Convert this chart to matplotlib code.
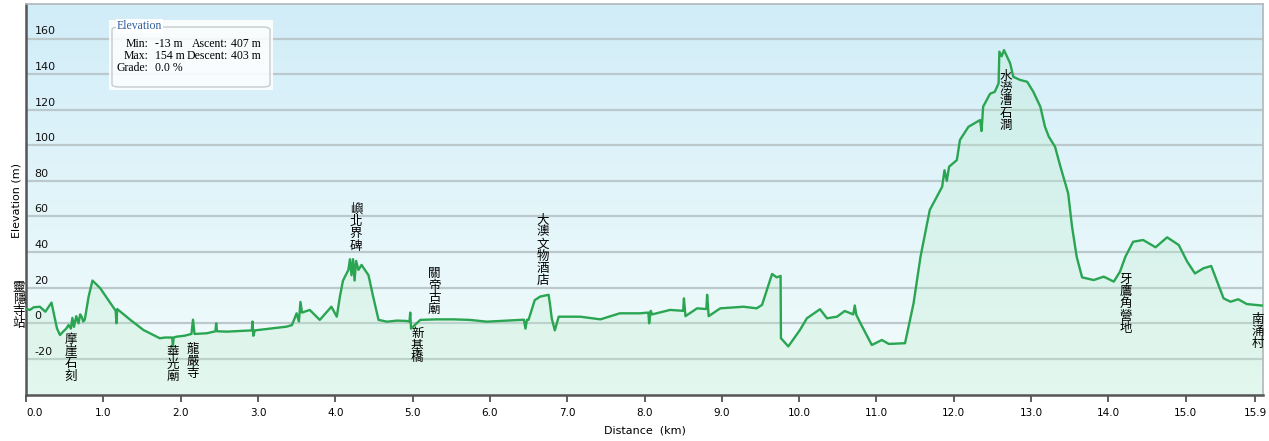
import matplotlib
matplotlib.use("Agg")
import matplotlib.pyplot as plt
import numpy as np
from matplotlib.patches import FancyBboxPatch, Rectangle

# ---------------- data ----------------
dist_km = [0.00, 0.05, 0.10, 0.18, 0.25, 0.33, 0.35, 0.40, 0.44, 0.48, 0.52, 0.55, 0.58, 0.60,
           0.62, 0.65, 0.68, 0.70, 0.72, 0.74, 0.76, 0.81, 0.86, 0.96, 1.05, 1.16, 1.17, 1.18,
           1.35, 1.52, 1.73, 1.80, 1.89, 1.90, 1.91, 1.95, 2.05, 2.14, 2.16, 2.18, 2.34, 2.45,
           2.46, 2.47, 2.60, 2.92, 2.93, 2.94, 2.96, 3.20, 3.37, 3.44, 3.50, 3.53, 3.55, 3.57,
           3.67, 3.80, 3.95, 4.02, 4.06, 4.10, 4.17, 4.19, 4.21, 4.23, 4.25, 4.27, 4.30, 4.34,
           4.43, 4.49, 4.56, 4.67, 4.80, 4.92, 4.96, 4.97, 4.98, 5.10, 5.31, 5.53, 5.74, 5.96,
           6.22, 6.44, 6.46, 6.48, 6.50, 6.58, 6.65, 6.76, 6.78, 6.80, 6.84, 6.89, 7.17, 7.43,
           7.68, 7.94, 8.05, 8.06, 8.08, 8.10, 8.33, 8.50, 8.51, 8.53, 8.68, 8.80, 8.81, 8.83,
           8.98, 9.28, 9.45, 9.52, 9.65, 9.71, 9.76, 9.765, 9.86, 10.01, 10.10, 10.27, 10.36,
           10.49, 10.59, 10.70, 10.72, 10.74, 10.79, 10.94, 11.07, 11.16, 11.37, 11.42, 11.48,
           11.57, 11.69, 11.85, 11.88, 11.91, 11.94, 12.04, 12.08, 12.19, 12.34, 12.36, 12.38,
           12.47, 12.53, 12.58, 12.59, 12.62, 12.65, 12.73, 12.77, 12.86, 12.95, 13.03, 13.12,
           13.18, 13.23, 13.31, 13.38, 13.48, 13.53, 13.59, 13.66, 13.81, 13.94, 14.07, 14.15,
           14.22, 14.32, 14.45, 14.61, 14.76, 14.91, 15.02, 15.12, 15.23, 15.33, 15.40, 15.49,
           15.58, 15.68, 15.79, 16.00]
elev_m = [8, 7.5, 9, 9.3, 6.5, 11.6, 7.5, -2.8, -6.6, -4.7, -3, -1, -3, 3,
          -2, 4, 0, 5, 3.7, 1, 2, 15, 24, 19.7, 14, 7, 0, 8,
          1.9, -3.8, -8.4, -8, -8, -13, -8, -7.5, -7, -6, 2, -6, -5.6, -4.5,
          0, -4.5, -4.7, -4, 1, -7, -4, -2.8, -1.9, -1, 5.6, 1, 12, 6,
          7.5, 1.9, 9.3, 3.7, 15, 24, 30, 36, 27, 36, 24, 35, 30, 32.8,
          27, 15, 1.9, 0.9, 1.5, 1.3, 1, 6, -3, 1.9, 2.2, 2.2, 1.9, 0.9,
          1.5, 2, -3, 2, 1.9, 13, 15, 16, 10, 2.8, -4, 3.7, 3.7, 2.2,
          5.6, 5.6, 6, 0, 7, 5, 7.5, 7, 14, 4, 8.4, 8, 16, 4,
          8.4, 9.3, 8.4, 10.3, 27.7, 25.8, 26.6, -8.4, -13, -3.8, 2.8, 7.9, 2.8,
          3.7, 6.9, 5, 10, 4.7, 0.3, -12.2, -9.4, -11.6, -11.2, -1, 11.2,
          37.4, 63.7, 76.7, 86, 80, 88, 91.7, 103, 110.4, 114.2, 108, 121.7,
          129, 130, 134.8, 152.6, 150, 153.5, 146, 138.5, 136.7, 135.7, 130, 121.7,
          110.4, 104.8, 99.2, 88, 73, 54.3, 37.4, 25.8, 24.3, 26.2, 23.4, 29,
          37.4, 45.8, 46.8, 42.7, 48.3, 44, 34.6, 28, 30.9, 32.2, 24.3, 14,
          12.1, 13.5, 10.8, 9.9]

y_ticks = [-20, 0, 20, 40, 60, 80, 100, 120, 140, 160]
x_ticks = [0, 1, 2, 3, 4, 5, 6, 7, 8, 9, 10, 11, 12, 13, 14, 15, 15.9]
x_tick_labels = ["0.0", "1.0", "2.0", "3.0", "4.0", "5.0", "6.0", "7.0", "8.0", "9.0",
                 "10.0", "11.0", "12.0", "13.0", "14.0", "15.0", "15.9"]

place_names = ["靈隱寺站", "摩崖石刻", "華光廟", "龍嚴寺", "嶼北界碑", "新基橋", "關帝古廟",
               "大澳文物酒店", "水澇漕石澗", "牙鷹角營地", "南涌村"]
place_km = [-0.09, 0.58, 1.90, 2.16, 4.27, 5.06, 5.28, 6.68, 12.67, 14.22, 15.93]
place_top_m = [24.0, -5.4, -12.8, -11.1, 67.6, -2.1, 31.6, 62.0, 142.3, 28.3, 5.8]

stats_labels = ["Min:", "Max:", "Grade:"]
stats_values = ["-13 m", "154 m", "0.0 %"]
stats_labels2 = ["Ascent:", "Descent:"]
stats_values2 = ["407 m", "403 m"]

# ---------------- figure ----------------
W, H = 1269, 441
fig = plt.figure(figsize=(W / 100, H / 100), dpi=100)
fig.patch.set_facecolor("white")

def fx(px):
    return px / W

def fy(py):
    return 1 - py / H

ax = fig.add_axes([fx(26), fy(395), fx(1263) - fx(26), fy(4) - fy(395)])
xmin, xmax = 0, 16.0
ymin, ymax = -40.3, 179.4

# background gradient (row 0 = top)
grad = np.linspace(0, 1, 256).reshape(-1, 1)
top = np.array([0.82, 0.93, 0.975])
bot = np.array([0.955, 0.99, 0.985])
img = top[None, None, :] * (1 - grad[:, :, None]) + bot[None, None, :] * grad[:, :, None]
ax.imshow(img, extent=[xmin, xmax, ymin, ymax], origin="upper", aspect="auto", zorder=0)
ax.set_xlim(xmin, xmax)
ax.set_ylim(ymin, ymax)

# gridlines
for v in y_ticks:
    ax.axhline(v, color="#bcc9cc", lw=1.6, zorder=1)
    ax.text(0.11, v + 1.2, str(v), fontsize=8, color="#111111", ha="left", va="bottom",
            family="DejaVu Sans", zorder=5)

# fill under curve
x = np.array(dist_km)
y = np.array(elev_m)
ax.fill_between(x, y, ymin, color="#bdeccd", alpha=0.3, zorder=2, lw=0)
ax.plot(x, y, color="#2aa552", lw=1.7, zorder=3, solid_joinstyle="round")

# axes style
ax.set_yticks([])
ax.set_xticks(x_ticks)
ax.set_xticklabels(x_tick_labels, fontsize=7.5, family="DejaVu Sans")
labs = ax.get_xticklabels()
labs[0].set_horizontalalignment("left")
ax.tick_params(axis="x", direction="out", length=5, width=1.2, color="#444444", pad=4)
for side in ["left", "bottom"]:
    ax.spines[side].set_color("#555555")
    ax.spines[side].set_linewidth(1.8)
for side in ["top", "right"]:
    ax.spines[side].set_color("#b0b8ba")
    ax.spines[side].set_linewidth(1.2)

ax.set_xlabel("Distance  (km)", fontsize=8, family="DejaVu Sans", labelpad=6)
fig.text(fx(17), fy(200), "Elevation (m)", rotation=90, fontsize=8, ha="center", va="center",
         family="DejaVu Sans")

# place name annotations (vertical)
cjk = ["Noto Sans CJK TC", "DejaVu Sans"]
for name, km, tm in zip(place_names, place_km, place_top_m):
    ax.text(km, tm, "\n".join(name), fontsize=9, family=cjk, ha="center", va="top",
            linespacing=0.92, color="black", zorder=6, clip_on=False)

# statistics box
outer = Rectangle((fx(109), fy(90)), fx(273) - fx(109), fy(20) - fy(90),
                  transform=fig.transFigure, facecolor="white", alpha=0.85,
                  edgecolor="none", zorder=10)
fig.patches.append(outer)
inner = FancyBboxPatch((fx(112), fy(87)), fx(270) - fx(112), fy(27) - fy(87),
                       boxstyle="round,pad=0,rounding_size=0.006",
                       transform=fig.transFigure, facecolor="none",
                       edgecolor="#c5cccc", lw=1.0, zorder=11)
fig.patches.append(inner)
fig.text(fx(117), fy(26), "Elevation", fontsize=8.5, family="Liberation Serif",
         color="#2c5d9c", ha="left", va="center", zorder=12,
         bbox=dict(facecolor="white", edgecolor="none", pad=0.5))
rows_y = [44, 56, 68]
for i, (lab, val) in enumerate(zip(stats_labels, stats_values)):
    fig.text(fx(148), fy(rows_y[i]), lab, fontsize=8.5, family="Liberation Serif",
             ha="right", va="center", zorder=12)
    fig.text(fx(155), fy(rows_y[i]), val, fontsize=8.5, family="Liberation Serif",
             ha="left", va="center", zorder=12)
for i, (lab, val) in enumerate(zip(stats_labels2, stats_values2)):
    fig.text(fx(228), fy(rows_y[i]), lab, fontsize=8.5, family="Liberation Serif",
             ha="right", va="center", zorder=12)
    fig.text(fx(231), fy(rows_y[i]), val, fontsize=8.5, family="Liberation Serif",
             ha="left", va="center", zorder=12)

fig.savefig("out.png", dpi=100, facecolor="white")
